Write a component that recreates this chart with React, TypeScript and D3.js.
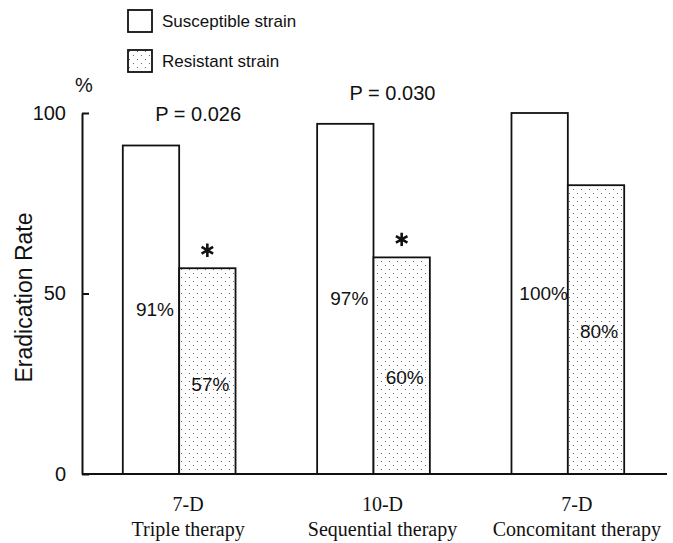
import React, { useEffect, useRef } from 'react';
import * as d3 from 'd3';

const therapies = ['Triple therapy', 'Sequential therapy', 'Concomitant therapy'];
const durations = ['7-D', '10-D', '7-D'];
const susceptible = [91, 97, 100];
const resistant = [57, 60, 80];
const pValues = ['P = 0.026', 'P = 0.030', ''];
const significant = [true, true, false];
const yTicks = [0, 50, 100];
const legendLabels = ['Susceptible strain', 'Resistant strain'];

const width = 673;
const height = 543;
const sans = "Arial, 'Liberation Sans', sans-serif";
const serif = "'Times New Roman', 'Liberation Serif', serif";
const ink = '#111';

function App() {
  const gy = useRef<SVGGElement>(null);

  const x = d3.scaleBand<string>().domain(therapies).range([82, 665]);
  const y = d3.scaleLinear().domain([0, 100]).range([474, 113]);
  const barW = x.bandwidth() * 0.29;
  const mid = (t: string) => (x(t) ?? 0) + x.bandwidth() / 2;
  const star = d3.symbol().type(d3.symbolAsterisk).size(125)();

  useEffect(() => {
    const g = d3.select(gy.current!);
    g.call(
      d3.axisLeft(y).tickValues(yTicks).tickSizeInner(-7).tickSizeOuter(0).tickPadding(16)
    );
    g.attr('font-family', sans).attr('font-size', 20);
    g.selectAll('path, line').attr('stroke', ink).attr('stroke-width', 2);
    g.selectAll('text').attr('fill', ink);
  }, []);

  return (
    <svg
      width={width}
      height={height}
      style={{ position: 'absolute', left: 0, top: 0, background: '#fff' }}
    >
      <defs>
        <pattern id="dots" width={8} height={8} patternUnits="userSpaceOnUse">
          <rect width={8} height={8} fill="#fff" />
          <circle cx={1.5} cy={1.5} r={0.6} fill="#555" />
          <circle cx={5.5} cy={5.5} r={0.6} fill="#555" />
        </pattern>
      </defs>
      <rect width={width} height={height} fill="#fff" />

      {/* legend */}
      {legendLabels.map((l, i) => (
        <g key={l} transform={`translate(128,${10 + i * 40})`}>
          <rect
            width={24}
            height={22}
            fill={i === 0 ? '#fff' : 'url(#dots)'}
            stroke={ink}
            strokeWidth={1.8}
          />
          <text x={34} y={17} fontFamily={sans} fontSize={17} fill={ink}>
            {l}
          </text>
        </g>
      ))}

      {/* bars */}
      {therapies.map((t, i) => {
        const c = mid(t);
        return (
          <g key={t}>
            <rect
              x={c - barW}
              y={y(susceptible[i])}
              width={barW}
              height={y(0) - y(susceptible[i])}
              fill="#fff"
              stroke={ink}
              strokeWidth={1.8}
            />
            <rect
              x={c}
              y={y(resistant[i])}
              width={barW}
              height={y(0) - y(resistant[i])}
              fill="url(#dots)"
              stroke={ink}
              strokeWidth={1.8}
            />
            <text
              x={c - barW / 2 + 4}
              y={y(susceptible[i] / 2) + 6}
              textAnchor="middle"
              fontFamily={sans}
              fontSize={19}
              fill={ink}
            >
              {susceptible[i]}%
            </text>
            <text
              x={c + barW / 2 + 3}
              y={y(resistant[i] * 0.64) + 49}
              textAnchor="middle"
              fontFamily={sans}
              fontSize={19}
              fill={ink}
            >
              {resistant[i]}%
            </text>
            {pValues[i] && (
              <text
                x={c + 19}
                y={y(susceptible[i]) - 24}
                textAnchor="middle"
                fontFamily={sans}
                fontSize={20}
                fill={ink}
              >
                {pValues[i]}
              </text>
            )}
            {significant[i] && (
              <path
                d={star ?? ''}
                transform={`translate(${c + barW / 2},${y(resistant[i]) - 18})`}
                fill="none"
                stroke={ink}
                strokeWidth={2.6}
              />
            )}
            <text
              x={c + 9}
              y={511}
              textAnchor="middle"
              fontFamily={serif}
              fontSize={20}
              fill={ink}
            >
              {durations[i]}
            </text>
            <text
              x={c + 9}
              y={536}
              textAnchor="middle"
              fontFamily={serif}
              fontSize={20}
              fill={ink}
            >
              {t}
            </text>
          </g>
        );
      })}

      {/* axes */}
      <g ref={gy} transform="translate(82,0)" />
      <line x1={82} x2={667} y1={y(0)} y2={y(0)} stroke={ink} strokeWidth={2} />
      <text x={84} y={92} textAnchor="middle" fontFamily={sans} fontSize={20} fill={ink}>
        %
      </text>
      <text
        transform={`translate(32,${(y(0) + y(100)) / 2 + 4}) rotate(-90)`}
        textAnchor="middle"
        fontFamily={sans}
        fontSize={23}
        fill={ink}
      >
        Eradication Rate
      </text>
    </svg>
  );
}

export default App;
